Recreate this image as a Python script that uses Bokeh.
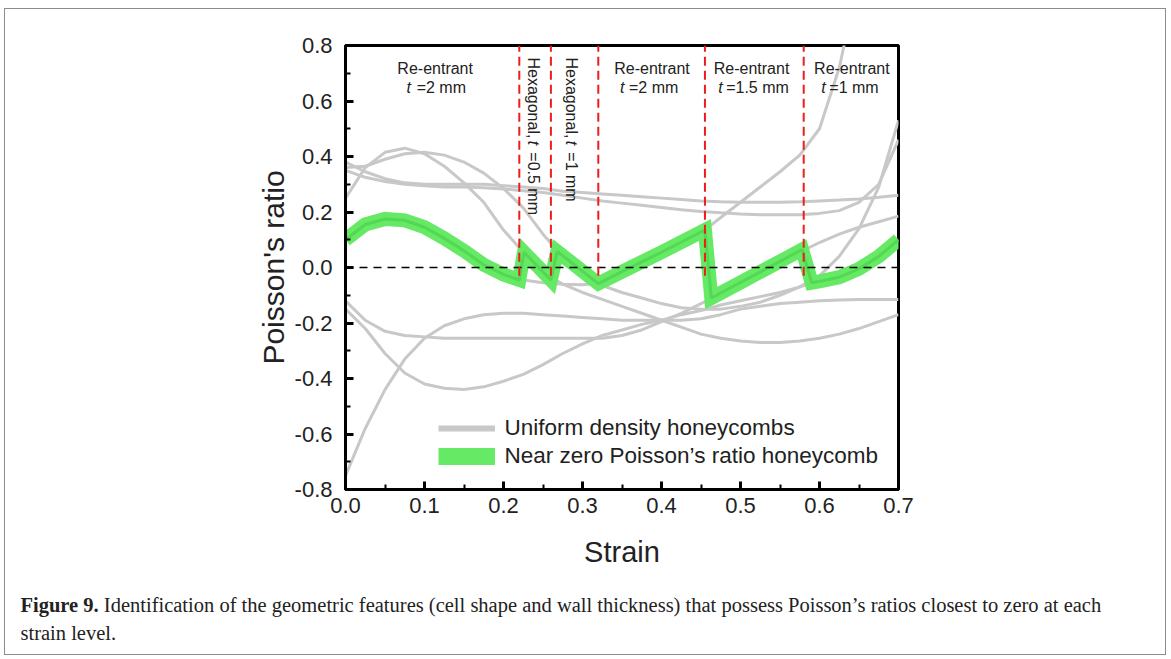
import math
from bokeh.plotting import figure
from bokeh.layouts import column
from bokeh.models import Range1d, FixedTicker, Legend, LegendItem, Div
from bokeh.core.properties import value
from bokeh.embed import file_html
from bokeh.resources import INLINE

# ---------------- data ----------------
strain = [0.0, 0.025, 0.05, 0.075, 0.1, 0.125, 0.15, 0.175, 0.2, 0.225, 0.25, 0.275,
          0.3, 0.325, 0.35, 0.375, 0.4, 0.425, 0.45, 0.475, 0.5, 0.525, 0.55, 0.575,
          0.6, 0.625, 0.65, 0.675, 0.7]

hex_a = [0.25, 0.36, 0.415, 0.43, 0.41, 0.365, 0.305, 0.235, 0.135, 0.055, -0.02, -0.06,
         -0.09, -0.115, -0.14, -0.165, -0.19, -0.215, -0.24, -0.255, -0.265, -0.27, -0.27, -0.265,
         -0.255, -0.24, -0.22, -0.195, -0.17]
hex_b = [0.36, 0.365, 0.39, 0.41, 0.415, 0.405, 0.38, 0.34, 0.285, 0.215, 0.12, 0.04,
         -0.015, -0.065, -0.09, -0.11, -0.13, -0.145, -0.15, -0.15, -0.14, -0.125, -0.1, -0.07,
         -0.03, 0.04, 0.14, 0.29, 0.53]
hex_c = [0.38, 0.345, 0.32, 0.305, 0.30, 0.30, 0.30, 0.30, 0.295, 0.29, 0.285, 0.275,
         0.27, 0.265, 0.26, 0.255, 0.25, 0.245, 0.24, 0.237, 0.235, 0.235, 0.235, 0.237,
         0.24, 0.243, 0.247, 0.253, 0.26]
hex_d = [0.35, 0.325, 0.31, 0.30, 0.295, 0.29, 0.29, 0.287, 0.283, 0.277, 0.27, 0.26,
         0.25, 0.24, 0.232, 0.224, 0.216, 0.208, 0.202, 0.197, 0.193, 0.19, 0.19, 0.19,
         0.195, 0.205, 0.235, 0.30, 0.46]
re_2 = [0.10, 0.155, 0.175, 0.17, 0.145, 0.105, 0.06, 0.01, -0.025, -0.045, -0.055, -0.06,
        -0.062, -0.055, -0.03, 0.0, 0.035, 0.075, 0.125, 0.18, 0.235, 0.29, 0.345, 0.405,
        0.5, 0.72, 1.05, 1.4, 1.8]
re_15 = [-0.12, -0.19, -0.23, -0.245, -0.25, -0.255, -0.255, -0.255, -0.255, -0.255, -0.255, -0.255,
         -0.255, -0.255, -0.245, -0.225, -0.195, -0.165, -0.13, -0.095, -0.06, -0.025, 0.01, 0.055,
         0.09, 0.12, 0.145, 0.165, 0.185]
re_1 = [-0.15, -0.22, -0.31, -0.38, -0.42, -0.435, -0.44, -0.43, -0.41, -0.385, -0.35, -0.31,
        -0.275, -0.245, -0.225, -0.205, -0.19, -0.17, -0.155, -0.135, -0.12, -0.105, -0.09, -0.07,
        -0.05, -0.025, 0.005, 0.045, 0.10]
re_05 = [-0.75, -0.58, -0.44, -0.33, -0.255, -0.21, -0.185, -0.17, -0.165, -0.165, -0.17, -0.175,
         -0.18, -0.185, -0.19, -0.19, -0.19, -0.19, -0.185, -0.17, -0.15, -0.14, -0.13, -0.125,
         -0.12, -0.117, -0.115, -0.115, -0.115]
uniform_curves = [hex_a, hex_b, hex_c, hex_d, re_2, re_15, re_1, re_05]

near_zero_strain = [0.0, 0.025, 0.05, 0.075, 0.1, 0.125, 0.15, 0.175, 0.2, 0.22, 0.226, 0.26,
                    0.268, 0.32, 0.35, 0.4, 0.455, 0.463, 0.5, 0.55, 0.578, 0.59, 0.6, 0.625,
                    0.65, 0.675, 0.7]
near_zero_ratio = [0.10, 0.155, 0.175, 0.17, 0.145, 0.105, 0.06, 0.01, -0.025, -0.045, 0.055, -0.045,
                   0.058, -0.058, -0.015, 0.055, 0.135, -0.11, -0.054, 0.022, 0.065, -0.055, -0.05, -0.035,
                   -0.005, 0.04, 0.10]

boundaries = [0.22, 0.26, 0.32, 0.455, 0.58]

x_ticks = [0.0, 0.1, 0.2, 0.3, 0.4, 0.5, 0.6, 0.7]
x_tick_labels = ["0.0", "0.1", "0.2", "0.3", "0.4", "0.5", "0.6", "0.7"]
y_ticks = [-0.8, -0.6, -0.4, -0.2, 0.0, 0.2, 0.4, 0.6, 0.8]
y_tick_labels = ["-0.8", "-0.6", "-0.4", "-0.2", "0.0", "0.2", "0.4", "0.6", "0.8"]

FONT = "Liberation Sans"
TXT = "#222222"

# page offsets: content starts inside the outer grey frame
OX, OY = 5.5, 9.5

p = figure(width=1158, height=560, output_backend="svg", toolbar_location=None,
           x_range=Range1d(0, 0.7), y_range=Range1d(-0.8, 0.8),
           min_border_left=int(345 - OX), min_border_right=int(1158 + OX - 897),
           min_border_top=int(45 - OY), min_border_bottom=int(560 + OY - 489))
p.grid.visible = False
p.outline_line_color = "black"
p.outline_line_width = 3
p.background_fill_color = "white"
p.border_fill_color = "white"

# axes
p.xaxis.ticker = FixedTicker(ticks=x_ticks, minor_ticks=[0.05, 0.15, 0.25, 0.35, 0.45, 0.55, 0.65])
p.yaxis.ticker = FixedTicker(ticks=y_ticks, minor_ticks=[-0.7, -0.5, -0.3, -0.1, 0.1, 0.3, 0.5, 0.7])
p.xaxis.major_label_overrides = dict(zip(x_ticks, x_tick_labels))
p.yaxis.major_label_overrides = dict(zip(y_ticks, y_tick_labels))
for ax in (p.xaxis, p.yaxis):
    ax.axis_line_width = 3
    ax.major_tick_in = 8
    ax.major_tick_out = 0
    ax.major_tick_line_width = 3
    ax.minor_tick_in = 5
    ax.minor_tick_out = 0
    ax.minor_tick_line_width = 2
    ax.major_label_text_font = FONT
    ax.major_label_text_font_size = "22px"
    ax.major_label_text_color = TXT
    ax.axis_label_text_font = FONT
    ax.axis_label_text_font_style = "normal"
    ax.axis_label_text_color = TXT
p.xaxis.axis_label_text_font_size = "29px"
p.yaxis.axis_label_text_font_size = "30px"
p.xaxis.axis_label = "Strain"
p.yaxis.axis_label = "Poisson's ratio"
p.xaxis.major_label_standoff = 8
p.yaxis.major_label_standoff = 13
p.xaxis.axis_label_standoff = 20
p.yaxis.axis_label_standoff = 2

# gray curves
gray_renderers = []
for ys in uniform_curves:
    r = p.line(strain, ys, line_color="#c8c8c8", line_width=3)
    gray_renderers.append(r)

# near zero honeycomb
p.line(near_zero_strain, near_zero_ratio, line_color="#66EA66", line_width=14, line_join="miter")
p.line(near_zero_strain, near_zero_ratio, line_color="#44C844", line_width=3, line_alpha=0.55)

# zero reference line
p.line([0.0, 0.7], [0.0, 0.0], line_color="black", line_width=1.5, line_dash="8 6")

# boundaries
for b in boundaries:
    p.line([b, b], [-0.03, 0.8], line_color="#ee1c1c", line_width=2, line_dash="9 5")

# region labels
tf = value(FONT)
FS = "16px"
region_x = [0.1135, 0.388, 0.514, 0.641]
p.text(x=region_x, y=[0.717] * 4, text=["Re-entrant"] * 4, text_font=tf,
       text_font_size=FS, text_align="center", text_baseline="middle", text_color=TXT)
t_x = [(406 - 345) / 788.6, (619 - 345) / 788.6, (717 - 345) / 788.6, (820 - 345) / 788.6]
rest_x = [(416 - 345) / 788.6, (628 - 345) / 788.6, (725 - 345) / 788.6, (828 - 345) / 788.6]
p.text(x=t_x, y=[0.649] * 4, text=["t"] * 4, text_font=tf, text_font_style="italic",
       text_font_size=FS, text_align="left", text_baseline="middle", text_color=TXT)
p.text(x=rest_x, y=[0.649] * 4, text=["=2 mm", "=2 mm", "=1.5 mm", "=1 mm"], text_font=tf,
       text_font_size=FS, text_align="left", text_baseline="middle", text_color=TXT)

vx = [(533 - 345) / 788.6, (571 - 345) / 788.6]
p.text(x=vx, y=[0.757] * 2, text=["Hexagonal,"] * 2, text_font=tf, angle=-math.pi / 2,
       text_font_size=FS, text_align="left", text_baseline="middle", text_color=TXT)
p.text(x=vx, y=[0.457] * 2, text=["t"] * 2, text_font=tf, angle=-math.pi / 2, text_font_style="italic",
       text_font_size=FS, text_align="left", text_baseline="middle", text_color=TXT)
p.text(x=vx, y=[0.415] * 2, text=["=0.5 mm", "=1 mm"], text_font=tf, angle=-math.pi / 2,
       text_font_size=FS, text_align="left", text_baseline="middle", text_color=TXT)

# legend (dedicated swatch renderers, drawn with no visible data)
sw_gray = p.line([float("nan")], [float("nan")], line_color="#c8c8c8", line_width=6)
sw_green = p.line([float("nan")], [float("nan")], line_color="#66EA66", line_width=17)
legend = Legend(items=[LegendItem(label="Uniform density honeycombs", renderers=[sw_gray]),
                       LegendItem(label="Near zero Poisson\u2019s ratio honeycomb", renderers=[sw_green])],
                location=(93, 20))
legend.background_fill_alpha = 0
legend.border_line_alpha = 0
legend.glyph_width = 57
legend.glyph_height = 24
legend.label_height = 24
legend.spacing = 2
legend.padding = 0
legend.margin = 0
legend.label_standoff = 10
legend.label_text_font = FONT
legend.label_text_font_size = "22.5px"
legend.label_text_color = TXT
p.add_layout(legend)

caption_html = (
    '<div style="position:fixed;left:4px;top:8px;width:1162px;height:647px;'
    'border:1.5px solid #8c8c8c;box-sizing:border-box;pointer-events:none;"></div>'
    '<div style="font-family:\'Liberation Serif\',serif;font-size:20.5px;line-height:28px;'
    'color:#222;padding:16px 0 0 10px;white-space:nowrap;">'
    '<b>Figure 9.</b> Identification of the geometric features (cell shape and wall thickness) '
    'that possess Poisson\u2019s ratios closest to zero at each<br>strain level.</div>'
)
caption = Div(text=caption_html, width=1158, height=84)

page = column(p, caption, margin=(0, 0, 0, 0), spacing=0,
              styles={"position": "absolute", "left": f"{OX}px", "top": f"{OY}px",
                      "background": "white"})

open("out.html", "w").write(file_html(page, INLINE))
